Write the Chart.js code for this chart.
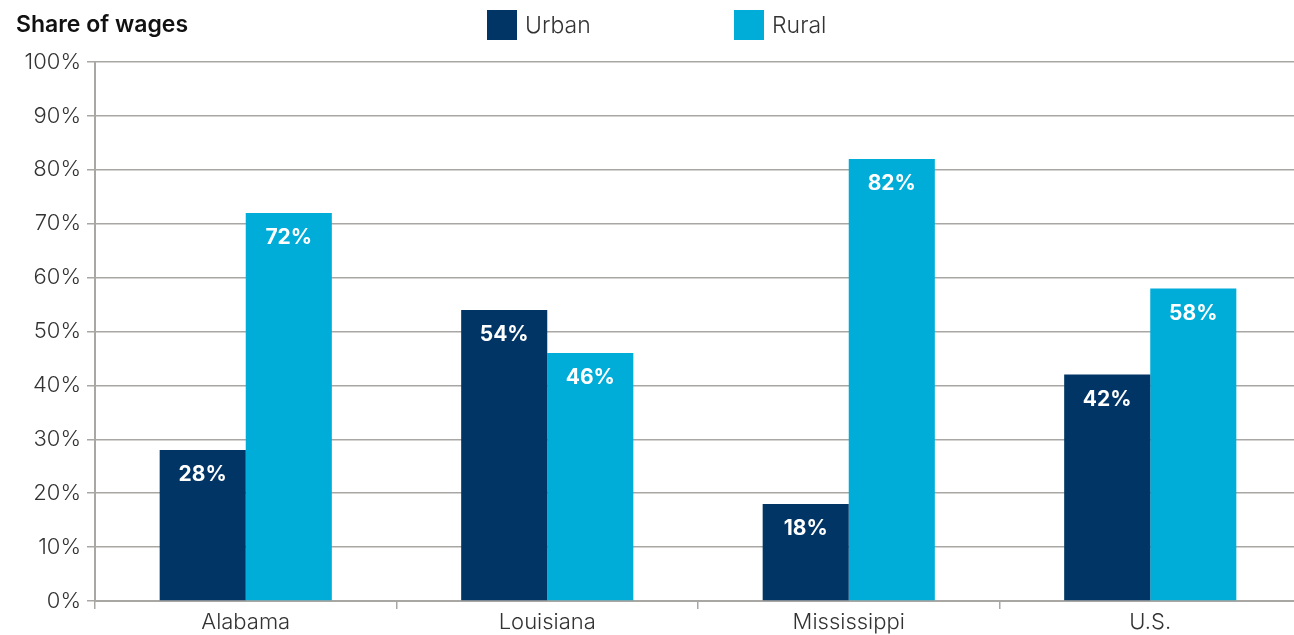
<!DOCTYPE html>
<html>
<head>
<meta charset="utf-8">
<script src="https://cdn.jsdelivr.net/npm/chart.js@4.4.0/dist/chart.umd.min.js"></script>
<style>
  html, body { margin: 0; padding: 0; background: #fff; overflow: hidden; }
  #wrap { width: 1302px; height: 635px; position: relative; }
</style>
</head>
<body>
<div id="wrap"><canvas id="c" width="1302" height="635"></canvas></div>
<script>
const categories = ["Alabama", "Louisiana", "Mississippi", "U.S."];
const urbanValues = [28, 54, 18, 42];
const ruralValues = [72, 46, 82, 58];
const yTicks = [0, 10, 20, 30, 40, 50, 60, 70, 80, 90, 100];
const seriesNames = ["Urban", "Rural"];
const titleText = "Share of wages";

const URBAN = "#003566";
const RURAL = "#00acd8";
const GRID = "#a9a7a3";
const FONT = "Inter, 'Open Sans', sans-serif";

const headerPlugin = {
  id: "header",
  afterDraw(chart) {
    const ctx = chart.ctx;
    ctx.save();
    ctx.textBaseline = "middle";
    ctx.fillStyle = "#111";
    ctx.font = "600 23px " + FONT;
    ctx.textAlign = "left";
    ctx.fillText(titleText, 16, 25);
    const items = [
      { x: 487, color: URBAN, label: seriesNames[0] },
      { x: 734, color: RURAL, label: seriesNames[1] }
    ];
    items.forEach(it => {
      ctx.fillStyle = it.color;
      ctx.fillRect(it.x, 10, 30, 30);
      ctx.fillStyle = "#333";
      ctx.font = "300 23px " + FONT;
      ctx.fillText(it.label, it.x + 38, 26);
    });
    ctx.restore();
  }
};

const labelPlugin = {
  id: "barLabels",
  afterDatasetsDraw(chart) {
    const ctx = chart.ctx;
    ctx.save();
    ctx.fillStyle = "#fff";
    ctx.font = "bold 21px " + FONT;
    ctx.textAlign = "center";
    ctx.textBaseline = "middle";
    chart.data.datasets.forEach((ds, di) => {
      const meta = chart.getDatasetMeta(di);
      meta.data.forEach((bar, i) => {
        ctx.fillText(ds.data[i] + "%", bar.x, bar.y + 25);
      });
    });
    ctx.restore();
  }
};

new Chart(document.getElementById("c"), {
  type: "bar",
  data: {
    labels: categories,
    datasets: [
      { label: seriesNames[0], data: urbanValues, backgroundColor: URBAN, barPercentage: 1, categoryPercentage: 0.571 },
      { label: seriesNames[1], data: ruralValues, backgroundColor: RURAL, barPercentage: 1, categoryPercentage: 0.571 }
    ]
  },
  options: {
    responsive: false,
    animation: false,
    layout: { padding: { top: 62, right: 1, bottom: 0, left: 0 } },
    plugins: { legend: { display: false }, tooltip: { enabled: false } },
    scales: {
      x: {
        afterFit(scale) { scale.height = 34; },
        grid: { drawOnChartArea: false, drawTicks: true, tickLength: 8, color: GRID, lineWidth: 1.5, offset: true },
        border: { display: true, color: GRID, width: 2 },
        ticks: { color: "#333", font: { family: FONT, size: 22, weight: 300 }, padding: 0 }
      },
      y: {
        min: 0, max: 100,
        afterFit(scale) { scale.width = 95; },
        afterBuildTicks(scale) { scale.ticks = yTicks.map(v => ({ value: v })); },
        grid: { color: GRID, lineWidth: 1.5, drawTicks: true, tickLength: 8 },
        border: { display: true, color: GRID, width: 2 },
        ticks: { color: "#333", font: { family: FONT, size: 22, weight: 300 }, padding: 6, callback: v => v + "%" }
      }
    }
  },
  plugins: [headerPlugin, labelPlugin]
});
</script>
</body>
</html>
